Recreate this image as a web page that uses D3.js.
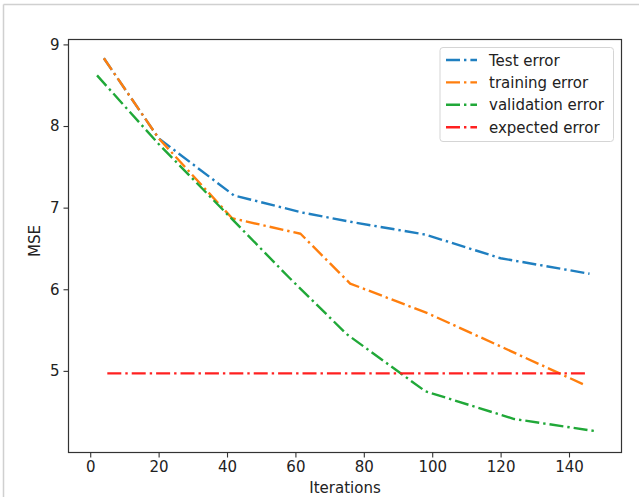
<!DOCTYPE html>
<html>
<head>
<meta charset="utf-8">
<script src="https://cdn.jsdelivr.net/npm/d3@7"></script>
<style>
  body { margin: 0; background: #fff; }
  svg { display: block; font-family: "DejaVu Sans", sans-serif; }
</style>
</head>
<body>
<svg id="chart"></svg>
<script>
// values
const testIter = [4, 20, 42, 62, 77, 98, 120, 146]
const testErr = [8.83, 7.85, 7.15, 6.94, 6.82, 6.67, 6.38, 6.19]

const trainIter = [4, 20, 41.5, 61.5, 76, 99, 121, 145]
const trainErr = [8.83, 7.85, 6.87, 6.68, 6.07, 5.70, 5.28, 4.82]

const validIter = [2, 20, 41, 58, 75, 98, 124, 148]
const validErr = [8.62, 7.78, 6.88, 6.15, 5.45, 4.75, 4.41, 4.26]

const expIter = [5, 145]
const expErr = [4.97, 4.97]

const xTicks = [0, 20, 40, 60, 80, 100, 120, 140]
const yTicks = [5, 6, 7, 8, 9]

const seriesNames = ['Test error', 'training error', 'validation error', 'expected error']
const colors = ['#1f7fc0', '#ff7f0e', '#20a838', '#ff2020']

const width = 639, height = 497
const fs = 15
const svg = d3.select('#chart').attr('width', width).attr('height', height)

// thin grey frame of the screenshot (top + left)
svg.append('line').attr('x1', 3.5).attr('x2', width).attr('y1', 4.5).attr('y2', 4.5)
    .attr('stroke', '#d0d0d0').attr('stroke-width', 1.5)
svg.append('line').attr('x1', 3.5).attr('x2', 3.5).attr('y1', 4.5).attr('y2', height)
    .attr('stroke', '#d0d0d0').attr('stroke-width', 1.5)

// plot area
const pLeft = 68.5, pRight = 621.5, pTop = 39.5, pBottom = 452.5

let x = d3.scaleLinear().domain([-6.35, 155.35]).range([pLeft, pRight])
let y = d3.scaleLinear().domain([4.0, 9.06]).range([pBottom, pTop])

let series = [
    {iter: testIter, err: testErr},
    {iter: trainIter, err: trainErr},
    {iter: validIter, err: validErr},
    {iter: expIter, err: expErr}
]

let line = d3.line()
    .x(d => x(d[0]))
    .y(d => y(d[1]))

let g = svg.append('g')

series.forEach((s, i) => {
    let pts = s.iter.map((v, k) => [v, s.err[k]])
    g.append('path')
        .datum(pts)
        .attr('d', line)
        .attr('fill', 'none')
        .attr('stroke', colors[i])
        .attr('stroke-width', 2.4)
        .attr('stroke-dasharray', '14,4,2.4,4')
        .attr('stroke-linejoin', 'round')
})

// axes
let xAxis = d3.axisBottom(x).tickValues(xTicks).tickFormat(d3.format('d'))
    .tickSize(5).tickSizeOuter(0).tickPadding(4)
let yAxis = d3.axisLeft(y).tickValues(yTicks).tickFormat(d3.format('d'))
    .tickSize(5).tickSizeOuter(0).tickPadding(4)

let gx = svg.append('g').attr('transform', `translate(0,${pBottom})`).call(xAxis)
let gy = svg.append('g').attr('transform', `translate(${pLeft},0)`).call(yAxis)
;[gx, gy].forEach(a => {
    a.select('.domain').remove()
    a.selectAll('line').attr('stroke', '#333').attr('stroke-width', 1.1)
    a.selectAll('text').attr('font-size', fs).attr('fill', '#222')
        .attr('font-family', '"DejaVu Sans", sans-serif')
})

// axes box
svg.append('rect')
    .attr('x', pLeft).attr('y', pTop)
    .attr('width', pRight - pLeft).attr('height', pBottom - pTop)
    .attr('fill', 'none').attr('stroke', '#333').attr('stroke-width', 1.2)

svg.append('text')
    .attr('x', (pLeft + pRight) / 2).attr('y', 492.5)
    .attr('text-anchor', 'middle').attr('font-size', fs).attr('fill', '#222')
    .text('Iterations')

svg.append('text')
    .attr('transform', 'translate(40,241) rotate(-90)')
    .attr('text-anchor', 'middle').attr('font-size', fs).attr('fill', '#222')
    .text('MSE')

// legend
let lg = svg.append('g')
lg.append('rect')
    .attr('x', 440).attr('y', 47.5).attr('width', 173.5).attr('height', 94)
    .attr('rx', 3).attr('fill', 'white').attr('fill-opacity', 0.8)
    .attr('stroke', '#d5d5d5').attr('stroke-width', 1)

seriesNames.forEach((name, i) => {
    let ry = 60 + i * 22.4
    lg.append('line')
        .attr('x1', 446).attr('x2', 477).attr('y1', ry).attr('y2', ry)
        .attr('stroke', colors[i]).attr('stroke-width', 2.4)
        .attr('stroke-dasharray', '14,4,2.4,4')
    lg.append('text')
        .attr('x', 489).attr('y', ry + 5.5)
        .attr('font-size', fs).attr('fill', '#222')
        .text(name)
})
</script>
</body>
</html>
